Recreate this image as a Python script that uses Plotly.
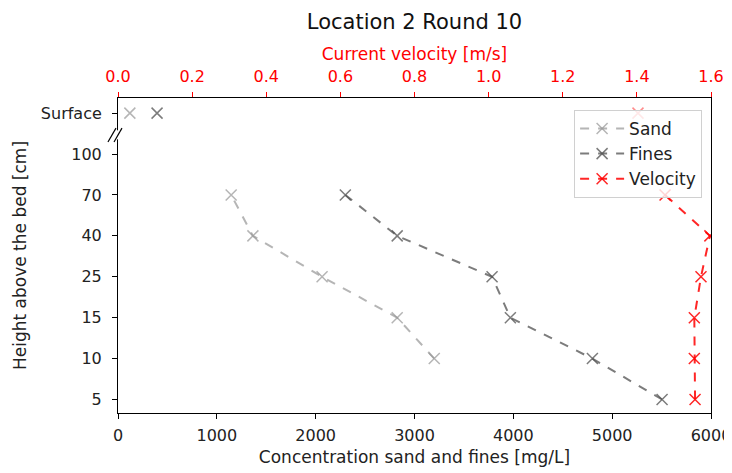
import plotly.graph_objects as go

heights = ["5", "10", "15", "25", "40", "70", "100", "Surface"]
ypos = list(range(len(heights)))

sand_h = ["10", "15", "25", "40", "70"]
sand_vals = [3200, 2825, 2065, 1365, 1145]
fines_h = ["5", "10", "15", "25", "40", "70"]
fines_vals = [5505, 4800, 3970, 3785, 2825, 2300]
vel_h = ["5", "10", "15", "25", "40", "70"]
vel_vals = [1.557, 1.555, 1.555, 1.573, 1.597, 1.476]
surf_sand = 120
surf_fines = 395
surf_vel = 1.403

def yi(labels):
    return [heights.index(h) for h in labels]

sand_c = "rgba(150,150,150,0.7)"
fines_c = "rgba(80,80,80,0.75)"
vel_c = "rgba(255,0,0,0.85)"
font = "DejaVu Sans"
fs = 17
tfs = 16

def mk(c):
    return dict(symbol="x-thin", size=11, color=c, line=dict(width=1.5, color=c))

fig = go.Figure()
fig.add_trace(go.Scatter(x=sand_vals, y=yi(sand_h), mode="lines+markers", name="Sand", legendgroup="a",
                         line=dict(color=sand_c, dash="dash", width=2), marker=mk(sand_c)))
fig.add_trace(go.Scatter(x=fines_vals, y=yi(fines_h), mode="lines+markers", name="Fines", legendgroup="b",
                         line=dict(color=fines_c, dash="dash", width=2), marker=mk(fines_c)))
fig.add_trace(go.Scatter(x=[surf_sand], y=yi(["Surface"]), mode="markers", showlegend=False,
                         marker=mk(sand_c)))
fig.add_trace(go.Scatter(x=[surf_fines], y=yi(["Surface"]), mode="markers", showlegend=False,
                         marker=mk(fines_c)))
fig.add_trace(go.Scatter(x=vel_vals, y=yi(vel_h), mode="lines+markers", name="Velocity", xaxis="x2",
                         legendgroup="c",
                         line=dict(color=vel_c, dash="dash", width=2), marker=mk(vel_c)))
fig.add_trace(go.Scatter(x=[surf_vel], y=yi(["Surface"]), mode="markers", showlegend=False, xaxis="x2",
                         marker=mk("rgba(255,0,0,0.45)")))

# page has an 8px body margin: figure spans 8..732 x 8..473
fig.update_layout(
    width=724, height=465,
    margin=dict(l=110, r=21, t=90, b=60),
    paper_bgcolor="white", plot_bgcolor="white",
    font=dict(family=font, size=fs, color="#222"),
    title=dict(text="Location 2 Round 10", x=0.5, xref="paper", xanchor="center",
               y=1 - 14 / 465, yref="container", yanchor="middle",
               font=dict(size=21, color="#111")),
    xaxis=dict(range=[0, 6000], tickvals=[0, 1000, 2000, 3000, 4000, 5000, 6000],
               ticks="outside", ticklen=5, tickcolor="black", showgrid=False, zeroline=False,
               showline=True, linecolor="black", linewidth=1, automargin=False, ticklabelstandoff=3,
               ticklabeloverflow="allow", tickfont=dict(size=tfs),
               title=dict(text="Concentration sand and fines [mg/L]", standoff=6, font=dict(size=fs))),
    xaxis2=dict(range=[0, 1.6], overlaying="x", side="top", tickvals=[0, 0.2, 0.4, 0.6, 0.8, 1.0, 1.2, 1.4, 1.6],
                tickformat=".1f", ticks="outside", ticklen=5, tickcolor="red", tickfont=dict(color="red", size=tfs),
                showgrid=False, zeroline=False, showline=True, linecolor="black", linewidth=1,
                automargin=False, ticklabelstandoff=4, ticklabeloverflow="allow",
                title=dict(text="Current velocity [m/s]", font=dict(color="red", size=fs), standoff=1)),
    yaxis=dict(range=[-0.33, 7.37], tickvals=ypos, ticktext=heights, ticks="outside", ticklen=5,
               tickcolor="black", showgrid=False, zeroline=False, showline=True, linecolor="black",
               linewidth=1, mirror=True, automargin=False, ticklabelstandoff=7, tickfont=dict(size=tfs),
               title=dict(text="Height above the bed [cm]", standoff=9, font=dict(size=fs))),
    legend=dict(x=0.985, y=0.962, xanchor="right", yanchor="top", bgcolor="rgba(255,255,255,0.8)",
                bordercolor="#d0d0d0", borderwidth=1, font=dict(size=fs), itemwidth=44,
                tracegroupgap=0),
    shapes=[
        dict(type="rect", xref="paper", yref="y", x0=-0.004, x1=0.004, y0=6.36, y1=6.58,
             fillcolor="white", line=dict(width=0), layer="above"),
        dict(type="line", xref="paper", yref="y", x0=-0.0169, x1=-0.0034, y0=6.293, y1=6.634,
             line=dict(color="black", width=1.2), layer="above"),
        dict(type="line", xref="paper", yref="y", x0=-0.0067, x1=0.0067, y0=6.293, y1=6.634,
             line=dict(color="black", width=1.2), layer="above"),
    ],
)

fig.write_html("out.html")
